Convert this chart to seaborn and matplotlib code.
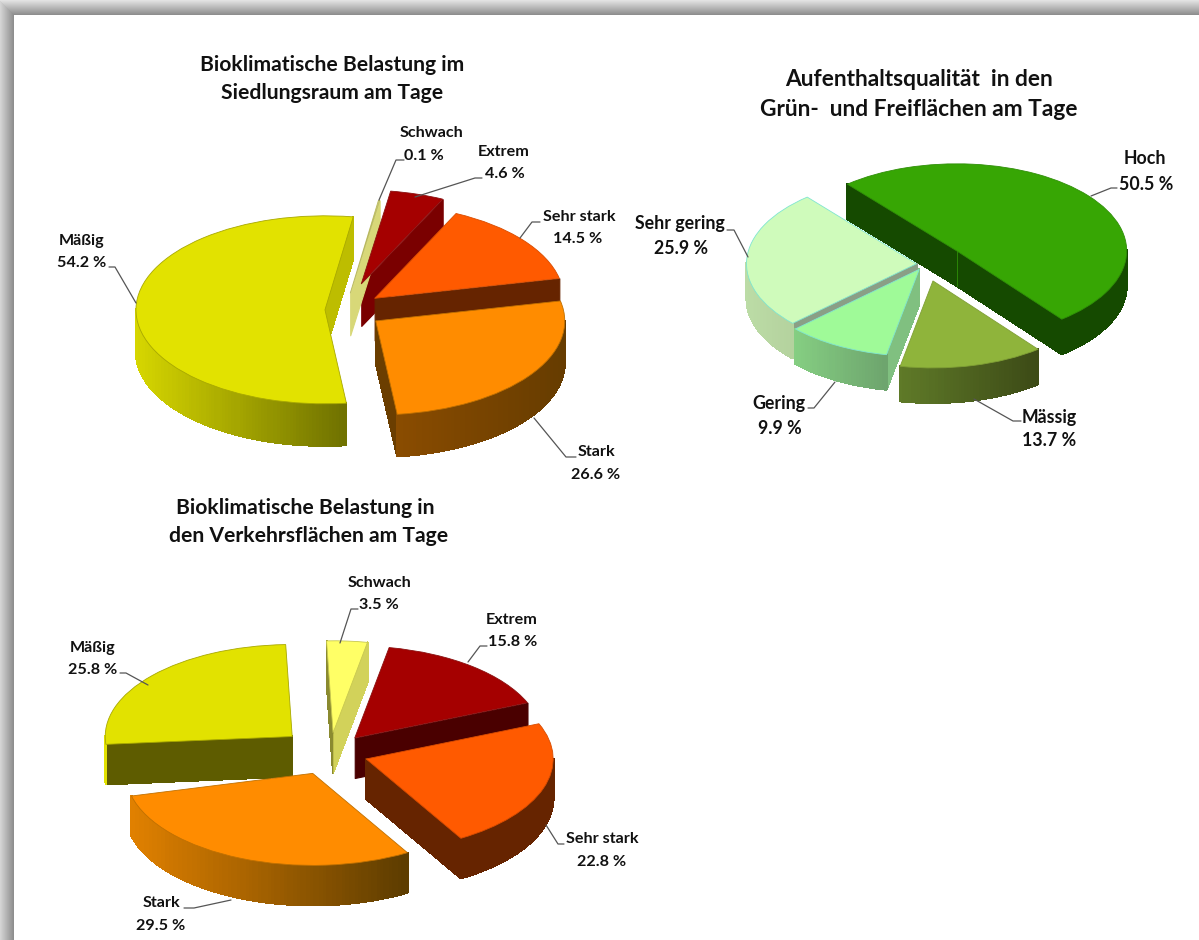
import numpy as np
import matplotlib
matplotlib.use("Agg")
import matplotlib.pyplot as plt
import seaborn as sns
from matplotlib.collections import PolyCollection
from matplotlib.patches import Rectangle
from matplotlib.transforms import Affine2D

sns.set_theme(style="white")
plt.rcParams["font.family"] = ["Lato", "DejaVu Sans"]

# ---- data ----
siedlung_labels = ["Schwach", "Extrem", "Sehr stark", "Stark", "Mäßig"]
siedlung_values = [0.1, 4.6, 14.5, 26.6, 54.2]
gruen_labels = ["Hoch", "Mässig", "Gering", "Sehr gering"]
gruen_values = [50.5, 13.7, 9.9, 25.9]
verkehr_labels = ["Schwach", "Extrem", "Sehr stark", "Stark", "Mäßig"]
verkehr_values = [3.5, 15.8, 22.8, 29.5, 25.8]

W, H = 1199, 940
fig = plt.figure(figsize=(W / 100, H / 100), dpi=100, facecolor="white")
px = Affine2D().scale(1, -1).translate(0, H)


def pie3d(values, cx, cy, a, b, depth, start, explode, styles, rest_before=None):
    """Exploded pie, squashed by its axes; sides extruded from the same angles.
    The printed shares of a chart may not add up to 100 %: the remainder stays
    an empty sector in front of slice number `rest_before`."""
    ext = 1.7
    ax = fig.add_axes([(cx - ext * a) / W, (H - cy - ext * b) / H,
                       2 * ext * a / W, 2 * ext * b / H])
    vals, expl, sty = list(values), list(explode), list(styles)
    if rest_before is not None:
        vals.insert(rest_before, 100 - sum(values))
        expl.insert(rest_before, 0)
        sty.insert(rest_before, None)
    wedges, _ = ax.pie(vals, explode=expl, startangle=start, counterclock=False,
                       colors=[s[0] if s else "none" for s in sty], radius=1,
                       wedgeprops=dict(linewidth=0.6))
    ax.set_aspect("auto")
    ax.set_xlim(-ext, ext)
    ax.set_ylim(-ext, ext)
    ax.patch.set_visible(False)
    d = depth / b
    for w, st in zip(wedges, sty):
        if st is None:
            w.set_visible(False)
            continue
        top, cut_s, cut_e, arc_l, arc_r, edge = st
        x0, y0 = w.center
        s, e = np.radians(w.theta1), np.radians(w.theta2)
        z = 10 - y0
        w.set_zorder(z + 0.5)
        w.set_edgecolor(edge)
        polys, cols = [], []
        both = 0
        if np.cos(s) > 0:
            p = (x0 + np.cos(s), y0 + np.sin(s))
            polys.append([(x0, y0), p, (p[0], p[1] - d), (x0, y0 - d)])
            cols.append(cut_s)
            both += 1
        if np.cos(e) < 0:
            p = (x0 + np.cos(e), y0 + np.sin(e))
            polys.append([(x0, y0), p, (p[0], p[1] - d), (x0, y0 - d)])
            cols.append(cut_e)
            both += 1
        th = np.linspace(s, e, max(int(np.degrees(e - s)), 2) + 1)
        th_vis = th[np.sin(th) < 0.02]
        if len(th_vis) > 1:
            xs = np.cos(th_vis)
            ramp = sns.blend_palette([arc_l, arc_r], 64)
            lo, hi = xs.min(), xs.max()
            for t1, t2 in zip(th_vis[:-1], th_vis[1:]):
                a1 = (x0 + np.cos(t1), y0 + np.sin(t1))
                a2 = (x0 + np.cos(t2), y0 + np.sin(t2))
                polys.append([a1, a2, (a2[0], a2[1] - d), (a1[0], a1[1] - d)])
                f = (0.5 * (np.cos(t1) + np.cos(t2)) - lo) / max(hi - lo, 1e-6)
                cols.append(ramp[int(f * 63)])
        pc = PolyCollection(polys, facecolors=cols, edgecolors=cols, linewidths=0.8,
                            antialiaseds=False, zorder=z)
        ax.add_collection(pc)
        if both == 2:
            ax.plot([x0, x0], [y0, y0 - d], color=edge, lw=0.6, zorder=z + 0.2)
    return ax


# style per slice: top, cut face (start), cut face (end), arc left, arc right, top edge
pie3d(siedlung_values, 345, 310, 189, 94, 42, 81.4,
      [0.18, 0.29, 0.20, 0.20, 0.106],
      [("#DCDC82", "#D8D878", "#8F8F3C", "#D8D878", "#D8D878", "#B8B860"),
       ("#A50000", "#7A0000", "#5A0000", "#7A0000", "#7A0000", "#8A1010"),
       ("#FF5A00", "#662400", "#662400", "#662400", "#662400", "#D84C00"),
       ("#FF8C00", "#6B3E00", "#7A4600", "#8A4C00", "#663C00", "#C07000"),
       ("#E2E200", "#BDBD00", "#BDBD00", "#D6D600", "#6E7000", "#A8A800")])

pie3d(gruen_values, 925, 264, 170, 87, 35, 130,
      [0.24, 0.20, 0.07, 0.05],
      [("#37A604", "#154A00", "#154A00", "#154A00", "#154A00", "#2F8F08"),
       ("#8FB43B", "#3E4C17", "#3E4C17", "#5F7A28", "#3C4A16", "#7F9F35"),
       ("#9FFA98", "#80C080", "#80C080", "#85CE82", "#6DA46D", "#7FE6D0"),
       ("#CFFBBB", "#8A9F86", "#8A9F86", "#BCDCA6", "#B4D29E", "#7FE6D0")])

pie3d(verkehr_values, 330, 753, 187, 92, 40, 92,
      [0.22, 0.21, 0.204, 0.24, 0.27],
      [("#FFFF66", "#D2D25A", "#8A8A30", "#D2D25A", "#D2D25A", "#C8C850"),
       ("#A50000", "#4A0000", "#4A0000", "#4A0000", "#4A0000", "#8A1010"),
       ("#FF5A00", "#662400", "#662400", "#662400", "#662400", "#D84C00"),
       ("#FF8C00", "#5C3C00", "#5C3C00", "#E08000", "#5C3C00", "#C07000"),
       ("#E2E200", "#5E5C00", "#5E5C00", "#E2E200", "#E2E200", "#A8A800")],
      rest_before=4)

# ---- border shadow ----
for i in range(15):
    g = sns.blend_palette(["#E2E2E2", "#8E8E8E"], 15)[i]
    fig.add_artist(Rectangle((0, i), W, 1, transform=px, facecolor=g, edgecolor="none"))
for i in range(14):
    g = sns.blend_palette(["#D4D4D4", "#8E8E8E"], 14)[i]
    fig.add_artist(Rectangle((i, i + 1), 1, H, transform=px, facecolor=g, edgecolor="none"))


def label(x, y, s, size=11.6, weight="bold"):
    fig.text(x, y, s, transform=px, ha="center", va="center", fontsize=size,
             fontweight=weight, color="#111111")


def leader(pts):
    xs, ys = zip(*pts)
    fig.add_artist(plt.Line2D(xs, ys, transform=px, color="#555555", lw=0.9))


for (x, y, s) in [(332, 65, "Bioklimatische Belastung im"), (332, 93, "Siedlungsraum am Tage"),
                  (305, 508, "Bioklimatische Belastung in"), (309, 536, "den Verkehrsflächen am Tage")]:
    label(x, y, s, size=15.2)
for (x, y, s) in [(919, 79, "Aufenthaltsqualität  in den"), (919, 109, "Grün-  und Freiflächen am Tage")]:
    label(x, y, s, size=16.4)

for (x, y, s) in [(431, 133, "Schwach"), (424, 156, "0.1 %"), (504, 152, "Extrem"), (505, 174, "4.6 %"),
                  (579, 217, "Sehr stark"), (578, 239, "14.5 %"), (596, 452, "Stark"), (596, 475, "26.6 %"),
                  (82, 241, "Mäßig"), (82, 263, "54.2 %"),
                  (379, 583, "Schwach"), (379, 605, "3.5 %"), (512, 620, "Extrem"), (513, 642, "15.8 %"),
                  (93, 648, "Mäßig"), (93, 670, "25.8 %"), (602, 839, "Sehr stark"), (602, 862, "22.8 %"),
                  (161, 903, "Stark"), (161, 926, "29.5 %")]:
    label(x, y, s)
for (x, y, s) in [(1145, 159, "Hoch"), (1146, 184, "50.5 %"), (680, 224, "Sehr gering"), (681, 248, "25.9 %"),
                  (779, 404, "Gering"), (780, 428, "9.9 %"), (1049, 417, "Mässig"), (1049, 441, "13.7 %")]:
    label(x, y, s, size=12.8)

for pts in [[(404, 160), (396, 160), (379, 200)], [(482, 178), (475, 178), (415, 197)],
            [(540, 222), (532, 222), (520, 238)], [(576, 457), (566, 457), (534, 418)],
            [(109, 267), (115, 267), (136, 303)],
            [(1117, 188), (1111, 188), (1091, 196)], [(727, 230), (734, 230), (748, 257)],
            [(808, 408), (814, 408), (835, 382)], [(1021, 421), (1013, 421), (974, 399)],
            [(358, 609), (351, 609), (340, 643)], [(487, 646), (480, 646), (468, 662)],
            [(120, 673), (126, 673), (148, 685)], [(564, 844), (558, 844), (546, 825)],
            [(184, 908), (194, 908), (231, 900)]]:
    leader(pts)

fig.savefig("out.png", dpi=100)
